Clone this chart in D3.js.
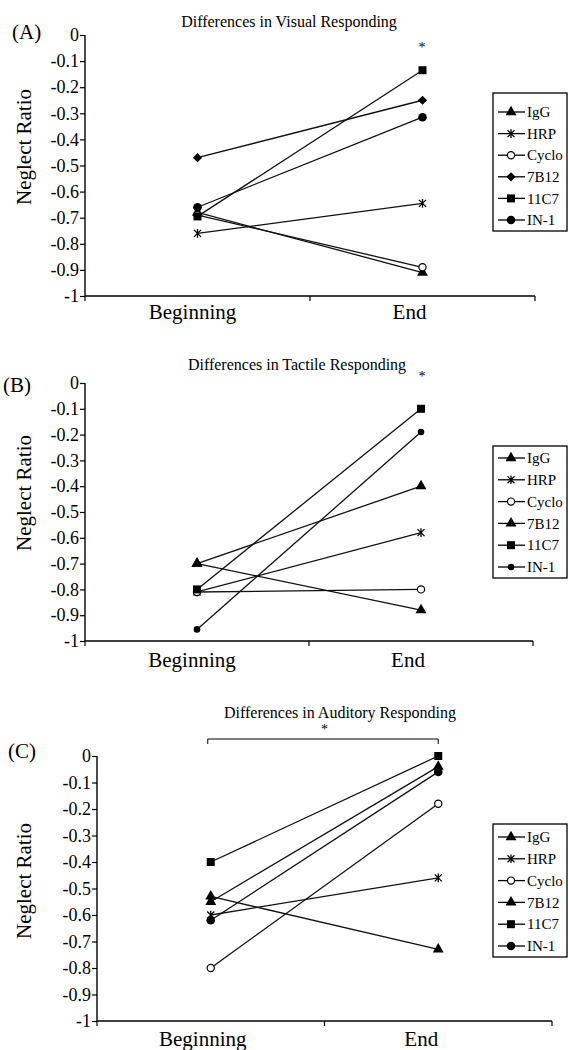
<!DOCTYPE html>
<html>
<head>
<meta charset="utf-8">
<script src="https://cdn.jsdelivr.net/npm/d3@7"></script>
<style>
  body { margin: 0; background: #fff; }
  svg { display: block; font-family: "Liberation Serif", "Times New Roman", serif; }
</style>
</head>
<body>
<svg id="chart" width="568" height="1050"></svg>
<script>
const groups = ["IgG", "HRP", "Cyclo", "7B12", "11C7", "IN-1"];
const phases = ["Beginning", "End"];
const yTicks = [0, -0.1, -0.2, -0.3, -0.4, -0.5, -0.6, -0.7, -0.8, -0.9, -1];
const yTickLabels = ["0", "-0.1", "-0.2", "-0.3", "-0.4", "-0.5", "-0.6", "-0.7", "-0.8", "-0.9", "-1"];

// Neglect ratio per group, at Beginning and End
const visualBeginning = [-0.68, -0.76, -0.69, -0.47, -0.695, -0.66];
const visualEnd = [-0.91, -0.645, -0.89, -0.25, -0.135, -0.315];
const tactileBeginning = [-0.70, -0.81, -0.81, -0.70, -0.80, -0.955];
const tactileEnd = [-0.88, -0.58, -0.80, -0.40, -0.10, -0.19];
const auditoryBeginning = [-0.53, -0.60, -0.80, -0.55, -0.40, -0.62];
const auditoryEnd = [-0.73, -0.46, -0.18, -0.04, 0.0, -0.06];

const titles = ["Differences in Visual Responding", "Differences in Tactile Responding", "Differences in Auditory Responding"];
const panelLabels = ["(A)", "(B)", "(C)"];
const markersVisual = ["triangle", "star", "open", "diamond", "square", "circle"];
const markersTactile = ["triangle", "star", "open", "triangle", "square", "small"];
const markersAuditory = ["triangle", "star", "open", "triangle", "square", "circle"];

const svg = d3.select("#chart");

// layout of each panel (pixels)
const panels = [
  { begin: visualBeginning, end: visualEnd, markers: markersVisual,
    left: 85, right: 535, top: 35, bottom: 296,
    titleX: 289, titleY: 27, labelX: 12, labelY: 39, ratioY: 147, catY: 319, catDx: [-5, -13],
    star: { x: 422, y: 52 },
    legend: { x: 493, y: 93, w: 74, h: 138, row0: 112, step: 21.6 } },
  { begin: tactileBeginning, end: tactileEnd, markers: markersTactile,
    left: 85, right: 533, top: 383, bottom: 641,
    titleX: 297, titleY: 370, labelX: 3, labelY: 392, ratioY: 493, catY: 667, catDx: [-5, -13],
    star: { x: 422, y: 381 },
    legend: { x: 493, y: 446, w: 74, h: 132, row0: 458, step: 21.8 } },
  { begin: auditoryBeginning, end: auditoryEnd, markers: markersAuditory,
    left: 97, right: 552, top: 756, bottom: 1021,
    titleX: 340, titleY: 718, labelX: 8, labelY: 758, ratioY: 881, catY: 1046, catDx: [-8, -17],
    bracket: { y: 739, star: 734 },
    legend: { x: 493, y: 824, w: 74, h: 133, row0: 837, step: 21.8 } }
];

function drawMarker(g, type, x, y) {
  const s = g.append("g").attr("transform", `translate(${x},${y})`);
  if (type === "triangle") {
    s.append("path").attr("d", d3.symbol(d3.symbolTriangle, 52)()).attr("fill", "#000");
  } else if (type === "square") {
    s.append("path").attr("d", d3.symbol(d3.symbolSquare, 64)()).attr("fill", "#000");
  } else if (type === "circle") {
    s.append("circle").attr("r", 4.3).attr("fill", "#000");
  } else if (type === "small") {
    s.append("circle").attr("r", 3.3).attr("fill", "#000");
  } else if (type === "open") {
    s.append("circle").attr("r", 3.6).attr("fill", "#fff").attr("stroke", "#000").attr("stroke-width", 1.2);
  } else if (type === "diamond") {
    s.append("path").attr("d", "M0,-4.6L4.6,0L0,4.6L-4.6,0Z").attr("fill", "#000");
  } else if (type === "star") {
    s.append("path").attr("d", "M-3.5,-3.5L3.5,3.5M-3.5,3.5L3.5,-3.5M0,-4.3L0,4.3")
      .attr("stroke", "#000").attr("stroke-width", 1.3).attr("fill", "none");
  }
}

panels.forEach((p, pi) => {
  const g = svg.append("g");

  const x = d3.scaleBand().domain(phases).range([p.left, p.right]);
  const y = d3.scaleLinear().domain([-1, 0]).range([p.bottom, p.top]);

  // y axis
  const yAxis = d3.axisLeft(y).tickValues(yTicks).tickSize(5).tickPadding(1)
    .tickFormat((d, i) => yTickLabels[i]);
  const ya = g.append("g").attr("transform", `translate(${p.left},0)`).call(yAxis);
  ya.attr("font-family", null).attr("font-size", null);
  ya.select(".domain").attr("d", `M0,${p.top}V${p.bottom}`).attr("stroke-width", 1.4);
  ya.selectAll(".tick line").attr("stroke-width", 1.2);
  ya.selectAll(".tick text").attr("font-size", 18).attr("fill", "#000");

  // x axis with boundary ticks
  g.append("line").attr("x1", p.left).attr("x2", p.right).attr("y1", p.bottom).attr("y2", p.bottom)
    .attr("stroke", "#000").attr("stroke-width", 1.4);
  const bounds = [p.left, x("End"), p.right];
  g.selectAll(".xtick").data(bounds).join("line")
    .attr("x1", d => d).attr("x2", d => d).attr("y1", p.bottom).attr("y2", p.bottom + 5)
    .attr("stroke", "#000").attr("stroke-width", 1.2);
  g.selectAll(".xlab").data(phases).join("text")
    .attr("x", (d, i) => x(d) + x.bandwidth() / 2 + p.catDx[i]).attr("y", p.catY)
    .attr("text-anchor", "middle").attr("font-size", 21).text(d => d);

  // y label
  g.append("text").attr("transform", `translate(31,${p.ratioY}) rotate(-90)`)
    .attr("text-anchor", "middle").attr("font-size", 21).text("Neglect Ratio");

  // title and panel letter
  g.append("text").attr("x", p.titleX).attr("y", p.titleY).attr("text-anchor", "middle")
    .attr("font-size", 16).text(titles[pi]);
  g.append("text").attr("x", p.labelX).attr("y", p.labelY)
    .attr("font-size", 21).text(panelLabels[pi]);

  // significance marks
  if (p.star) {
    g.append("text").attr("x", p.star.x).attr("y", p.star.y).attr("text-anchor", "middle")
      .attr("font-size", 14).attr("fill", "#000").text("*");
  }
  if (p.bracket) {
    const bx0 = x("Beginning") + x.bandwidth() / 2 - 3;
    const bx1 = x("End") + x.bandwidth() / 2;
    g.append("path").attr("d", `M${bx0},${p.bracket.y + 5}V${p.bracket.y}H${bx1}V${p.bracket.y + 5}`)
      .attr("fill", "none").attr("stroke", "#000").attr("stroke-width", 1);
    g.append("text").attr("x", x("End")).attr("y", p.bracket.star).attr("text-anchor", "middle")
      .attr("font-size", 14).attr("fill", "#000").text("*");
  }

  // series
  const cx = ph => x(ph) + x.bandwidth() / 2;
  groups.forEach((grp, i) => {
    g.append("line")
      .attr("x1", cx("Beginning")).attr("y1", y(p.begin[i]))
      .attr("x2", cx("End")).attr("y2", y(p.end[i]))
      .attr("stroke", "#111").attr("stroke-width", 1.3);
  });
  groups.forEach((grp, i) => {
    drawMarker(g, p.markers[i], cx("Beginning"), y(p.begin[i]));
    drawMarker(g, p.markers[i], cx("End"), y(p.end[i]));
  });

  // legend
  const L = p.legend;
  g.append("rect").attr("x", L.x).attr("y", L.y).attr("width", L.w).attr("height", L.h)
    .attr("fill", "#fff").attr("stroke", "#000").attr("stroke-width", 1.3);
  groups.forEach((grp, i) => {
    const ry = L.row0 + i * L.step;
    g.append("line").attr("x1", L.x + 5).attr("x2", L.x + 32).attr("y1", ry).attr("y2", ry)
      .attr("stroke", "#000").attr("stroke-width", 1.3);
    drawMarker(g, p.markers[i], L.x + 18, ry);
    g.append("text").attr("x", L.x + 34).attr("y", ry).attr("dy", "0.35em")
      .attr("font-size", 15).text(grp);
  });
});
</script>
</body>
</html>
